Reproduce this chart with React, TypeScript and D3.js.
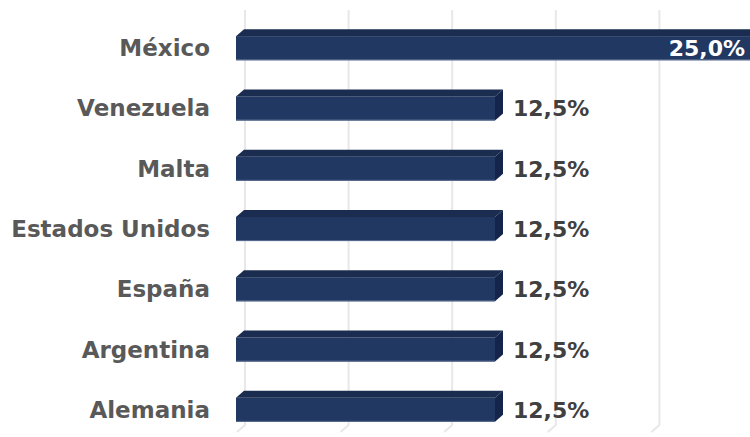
import React, { useEffect, useRef } from 'react';
import * as d3 from 'd3';

const categories = ['México', 'Venezuela', 'Malta', 'Estados Unidos', 'España', 'Argentina', 'Alemania'];
const values = [25, 12.5, 12.5, 12.5, 12.5, 12.5, 12.5];
const gridTicks = [0, 5, 10, 15, 20, 25];

const fmt = (v: number) => v.toFixed(1).replace('.', ',') + '%';

const App: React.FC = () => {
  const svgRef = useRef<SVGSVGElement>(null);

  useEffect(() => {
    if (!svgRef.current) return;
    const width = 750;
    const height = 437;
    const dx = 8; // 3D depth
    const dy = 7;

    const svg = d3.select(svgRef.current)
      .attr('width', width)
      .attr('height', height)
      .html('');

    const x = d3.scaleLinear().domain([0, 25]).range([236, 754]);
    const y = d3.scaleBand<string>()
      .domain(categories)
      .range([0, 458])
      .paddingInner(0.6)
      .paddingOuter(0.6);

    // back wall grid with floor bend
    const gridTop = 10;
    const gridBottom = 425;
    svg.append('g')
      .selectAll('path')
      .data(gridTicks)
      .join('path')
      .attr('d', (t) => {
        const gx = x(t) + dx + 1;
        return `M${gx},${gridTop}V${gridBottom}L${gx - dx},${gridBottom + dy}`;
      })
      .attr('fill', 'none')
      .attr('stroke', '#e8e8e8')
      .attr('stroke-width', 2);

    const rows = categories.map((c, i) => ({ c, v: values[i] }));
    const bars = svg.append('g').selectAll('g').data(rows).join('g');

    const x0 = x(0);
    // front face
    bars.append('rect')
      .attr('x', x0)
      .attr('y', (d) => y(d.c)!)
      .attr('width', (d) => x(d.v) - x0)
      .attr('height', y.bandwidth())
      .attr('fill', '#213862');
    // bottom light edge
    bars.append('line')
      .attr('x1', x0)
      .attr('x2', (d) => x(d.v))
      .attr('y1', (d) => y(d.c)! + y.bandwidth() - 0.5)
      .attr('y2', (d) => y(d.c)! + y.bandwidth() - 0.5)
      .attr('stroke', '#5a6d90')
      .attr('stroke-width', 1);
    // top face
    bars.append('path')
      .attr('d', (d) => {
        const t = y(d.c)!;
        const x1 = x(d.v);
        return `M${x0},${t}L${x0 + dx},${t - dy}H${x1 + dx}L${x1},${t}Z`;
      })
      .attr('fill', '#1a2c4f');
    // side face
    bars.append('path')
      .attr('d', (d) => {
        const t = y(d.c)!;
        const b = t + y.bandwidth();
        const x1 = x(d.v);
        return `M${x1},${t}L${x1 + dx},${t - dy}V${b - dy}L${x1},${b}Z`;
      })
      .attr('fill', '#14244a');

    // category labels
    svg.append('g')
      .selectAll('text')
      .data(categories)
      .join('text')
      .attr('x', 210)
      .attr('y', (c) => y(c)! + y.bandwidth() / 2 + 8)
      .attr('text-anchor', 'end')
      .attr('font-family', 'DejaVu Sans')
      .attr('font-weight', 'bold')
      .attr('font-size', 23)
      .attr('fill', '#595959')
      .text((c) => c);

    // value labels
    svg.append('g')
      .selectAll('text')
      .data(rows)
      .join('text')
      .attr('x', (d) => (d.v >= 25 ? 745 : x(d.v) + dx + 10))
      .attr('y', (d) => y(d.c)! + y.bandwidth() / 2 + 8)
      .attr('text-anchor', (d) => (d.v >= 25 ? 'end' : 'start'))
      .attr('font-family', 'DejaVu Sans')
      .attr('font-weight', 'bold')
      .attr('font-size', 22)
      .attr('fill', (d) => (d.v >= 25 ? '#ffffff' : '#404040'))
      .text((d) => fmt(d.v));
  }, []);

  return (
    <svg ref={svgRef} style={{ position: 'absolute', left: 0, top: 0, background: '#fff' }}></svg>
  );
};

export default App;
